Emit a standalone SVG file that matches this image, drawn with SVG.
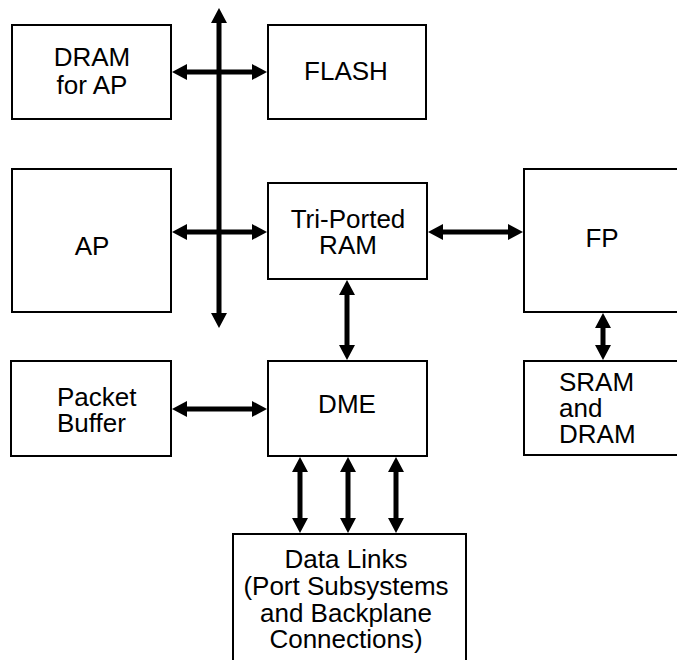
<svg xmlns="http://www.w3.org/2000/svg" width="677" height="660" viewBox="0 0 677 660">
<style>
.box{fill:#fff;stroke:#000;stroke-width:2}
.t{font-family:"Liberation Sans",Arial,sans-serif;font-size:26px;fill:#000}
.c{text-anchor:middle}
.con{stroke:#000;stroke-width:5;fill:none;marker-start:url(#ah);marker-end:url(#ah)}
</style>
<defs>
<marker id="ah" markerUnits="userSpaceOnUse" markerWidth="16" markerHeight="16" viewBox="0 0 15 16" refX="5" refY="8" orient="auto-start-reverse">
<path d="M0,0 L15,8 L0,16 Z" fill="#000"/>
</marker>
</defs>
<rect width="677" height="660" fill="#fff"/>
<g id="dram-ap"><rect class="box" x="12" y="25" width="159" height="94"/><text class="t c" x="92" y="66">DRAM</text><text class="t c" x="92" y="94">for AP</text></g>
<g id="flash"><rect class="box" x="268" y="25" width="158" height="94"/><text class="t c" x="346" y="80">FLASH</text></g>
<g id="ap"><rect class="box" x="12" y="169" width="159" height="143"/><text class="t c" x="92" y="255">AP</text></g>
<g id="tri-ram"><rect class="box" x="268" y="183" width="159" height="96"/><text class="t c" x="348" y="228">Tri-Ported</text><text class="t c" x="348" y="254">RAM</text></g>
<g id="fp"><rect class="box" x="524" y="169" width="200" height="143"/><text class="t c" x="602" y="247">FP</text></g>
<g id="sram"><rect class="box" x="524" y="361" width="200" height="94"/><text class="t" x="559" y="391">SRAM</text><text class="t" x="559" y="417">and</text><text class="t" x="559" y="443">DRAM</text></g>
<g id="packet"><rect class="box" x="11" y="361" width="160" height="95"/><text class="t" x="57" y="406">Packet</text><text class="t" x="57" y="432">Buffer</text></g>
<g id="dme"><rect class="box" x="268" y="361" width="159" height="95"/><text class="t c" x="347" y="413">DME</text></g>
<g id="datalinks"><rect class="box" x="233" y="534" width="233" height="200"/><text class="t c" x="346" y="568">Data Links</text><text class="t c" x="346" y="595">(Port Subsystems</text><text class="t c" x="346" y="622">and Backplane</text><text class="t c" x="346" y="648">Connections)</text></g>
<g id="connectors">
<line class="con" x1="219" y1="18" x2="219" y2="318"/>
<line class="con" x1="182" y1="72" x2="257" y2="72"/>
<line class="con" x1="182" y1="232" x2="257" y2="232"/>
<line class="con" x1="438" y1="232" x2="513" y2="232"/>
<line class="con" x1="347" y1="290" x2="347" y2="350"/>
<line class="con" x1="603" y1="323" x2="603" y2="350"/>
<line class="con" x1="182" y1="409" x2="257" y2="409"/>
<line class="con" x1="300" y1="467" x2="300" y2="523"/>
<line class="con" x1="348" y1="467" x2="348" y2="523"/>
<line class="con" x1="396" y1="467" x2="396" y2="523"/>
</g>
</svg>
